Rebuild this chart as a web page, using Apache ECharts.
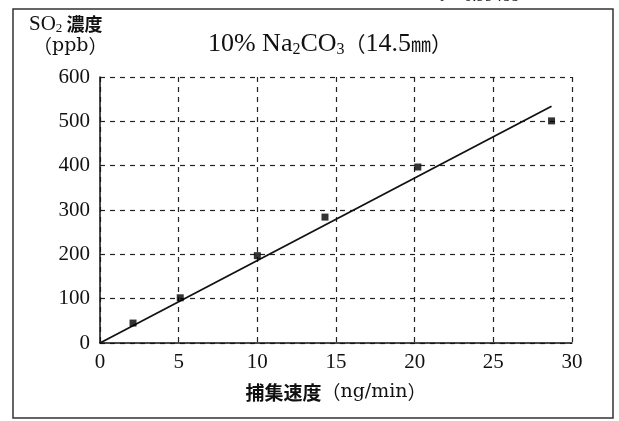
<!DOCTYPE html>
<html><head><meta charset="utf-8">
<script src="https://cdn.jsdelivr.net/npm/echarts@6/dist/echarts.min.js"></script>
<style>html,body{margin:0;padding:0;background:#fff}#c{width:619px;height:421px}</style>
</head><body><div id="c"></div>
<script>
var xTicks = [0, 5, 10, 15, 20, 25, 30];
var yTicks = [0, 100, 200, 300, 400, 500, 600];
var pointsX = [2.1, 5.1, 10.0, 14.3, 20.2, 28.7];
var pointsY = [45, 102, 197, 284, 397, 501];
var fitX = [0, 28.7];
var fitY = [0, 534];

var chart = echarts.init(document.getElementById('c'), null, {renderer: 'canvas'});
var numFont = 'Liberation Serif';
var monoFont = '"DejaVu Serif", "Liberation Serif"';
var cjk = '"Noto Sans CJK JP", "Liberation Serif"';
chart.setOption({
  animation: false,
  backgroundColor: '#fff',
  grid: {left: 100, right: 47, top: 77, bottom: 78},
  title: {
    text: '{a|10% Na}{s|2}{a|CO}{s|3}{p|（}{a|14.5}{j|㎜}{p|）}',
    left: 325, top: 25, textAlign: 'center',
    textStyle: {
      fontWeight: 'normal',
      rich: {
        a: {fontFamily: numFont, fontSize: 26, fontWeight: 'normal', color: '#111'},
        s: {fontFamily: numFont, fontSize: 16, fontWeight: 'normal', color: '#111', padding: [12, 0, 0, 0]},
        p: {fontFamily: cjk, fontSize: 21, fontWeight: 'normal', color: '#111'},
        j: {fontFamily: cjk, fontSize: 20, fontWeight: 'normal', color: '#111'}
      }
    }
  },
  graphic: [
    {type: 'rect', shape: {x: 13, y: 9, width: 600, height: 409}, style: {fill: 'none', stroke: '#333', lineWidth: 1.5}, silent: true},
    {type: 'text', left: 29, top: 14, style: {rich: {
        a: {fontFamily: numFont, fontSize: 21, fill: '#111'},
        s: {fontFamily: numFont, fontSize: 13, fill: '#111', padding: [9, 0, 0, 0]},
        c: {fontFamily: cjk, fontSize: 18, fill: '#111', fontWeight: 'bold'}
      }, text: '{a|SO}{s|2}{c| 濃度}'}},
    {type: 'text', left: 33, top: 37, style: {rich: {
        p: {fontFamily: cjk, fontSize: 19, fill: '#111'},
        a: {fontFamily: monoFont, fontSize: 19, fill: '#111'}
      }, text: '{p|（}{a|ppb}{p|）}'}},
    {type: 'text', left: 440, top: -12, style: {text: 'r = 0.99488', font: '17px "Liberation Serif"', fill: '#222'}}
  ],
  xAxis: {
    type: 'value', min: xTicks[0], max: xTicks[xTicks.length - 1], interval: 5,
    name: '{c|捕集速度}{p|（}{a|ng/min}{p|）}', nameLocation: 'middle', nameGap: 40,
    nameTextStyle: {rich: {
      c: {fontFamily: cjk, fontSize: 19, color: '#111', fontWeight: 'bold'},
      p: {fontFamily: cjk, fontSize: 19, color: '#111'},
      a: {fontFamily: monoFont, fontSize: 19, color: '#111'}
    }},
    axisLine: {show: true, lineStyle: {color: '#111', width: 1.5}},
    axisTick: {show: false},
    axisLabel: {fontFamily: numFont, fontSize: 21, color: '#111', margin: 9},
    splitLine: {show: true, lineStyle: {color: '#222', type: [5, 5], width: 1.2}}
  },
  yAxis: {
    type: 'value', min: yTicks[0], max: yTicks[yTicks.length - 1], interval: 100,
    axisLine: {show: true, lineStyle: {color: '#111', width: 1.5}},
    axisTick: {show: false},
    axisLabel: {fontFamily: numFont, fontSize: 21, color: '#111', margin: 10},
    splitLine: {show: true, lineStyle: {color: '#222', type: [5, 5], width: 1.2}}
  },
  series: [
    {type: 'line', data: fitX.map(function (x, i) { return [x, fitY[i]]; }),
     symbol: 'none', lineStyle: {color: '#111', width: 1.8}, z: 3},
    {type: 'scatter', data: pointsX.map(function (x, i) { return [x, pointsY[i]]; }),
     symbol: 'rect', symbolSize: 7, itemStyle: {color: '#000'}, z: 4}
  ]
});
</script></body></html>
